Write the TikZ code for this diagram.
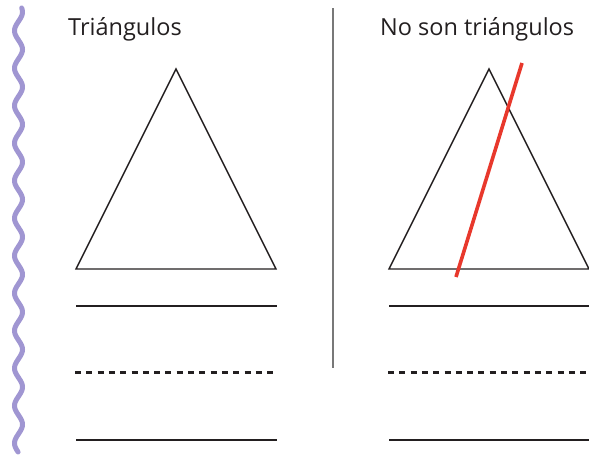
\documentclass[tikz,border=0pt]{standalone}
\usepackage{fontspec}
\setmainfont{Open Sans}
\definecolor{wavecol}{RGB}{160,150,210}
\definecolor{redcol}{RGB}{232,56,44}
\definecolor{inkcol}{RGB}{35,31,32}
\definecolor{divcol}{RGB}{120,120,120}
\begin{document}
\begin{tikzpicture}[x=1pt,y=-1pt,
  title/.style={anchor=base west,inner sep=0pt,text=inkcol,font=\fontsize{23.5}{28}\selectfont},
  tri/.style={draw=inkcol,line width=1.4pt,line join=miter},
  rule/.style={draw=inkcol,line width=2pt},
  dashrule/.style={draw=inkcol,line width=2.2pt,dash pattern=on 6pt off 5.3pt},
  wave/.style={draw=wavecol,line width=5pt,line cap=round},
  cross/.style={draw=redcol,line width=3.6pt}]
\useasboundingbox (0,0) rectangle (589,455);
% wavy border
\draw[wave] plot[domain=8:452,samples=300,smooth] ({18.5+4*cos((\x-12)/37.5*360)},\x);
% divider
\coordinate (d1) at (333,8);
\coordinate (d2) at (333,368);
\draw[divcol,line width=1.4pt] (d1) -- (d2);
% titles
\node[title] (t1) at (68,35) {Triángulos};
\node[title] (t2) at (380,35) {No son triángulos};
% left triangle
\coordinate (la) at (176,69);
\coordinate (lb) at (76,269);
\coordinate (lc) at (276,269);
\draw[tri] (la) -- (lb) -- (lc) -- cycle;
% right triangle
\coordinate (ra) at (489,69);
\coordinate (rb) at (389,269);
\coordinate (rc) at (589,269);
\draw[tri] (ra) -- (rb) -- (rc) -- cycle;
% red line
\coordinate (r1) at (522,63);
\coordinate (r2) at (456,277);
\draw[cross] (r1) -- (r2);
% writing lines left
\coordinate (l1a) at (76,305.5); \coordinate (l1b) at (277,305.5);
\coordinate (l2a) at (75,372.5); \coordinate (l2b) at (277,372.5);
\coordinate (l3a) at (76,439.5); \coordinate (l3b) at (277,439.5);
\draw[rule] (l1a) -- (l1b);
\draw[dashrule] (l2a) -- (l2b);
\draw[rule] (l3a) -- (l3b);
% writing lines right
\coordinate (m1a) at (389,305.5); \coordinate (m1b) at (589,305.5);
\coordinate (m2a) at (388,372.5); \coordinate (m2b) at (589,372.5);
\coordinate (m3a) at (389,439.5); \coordinate (m3b) at (589,439.5);
\draw[rule] (m1a) -- (m1b);
\draw[dashrule] (m2a) -- (m2b);
\draw[rule] (m3a) -- (m3b);
\end{tikzpicture}
\end{document}
